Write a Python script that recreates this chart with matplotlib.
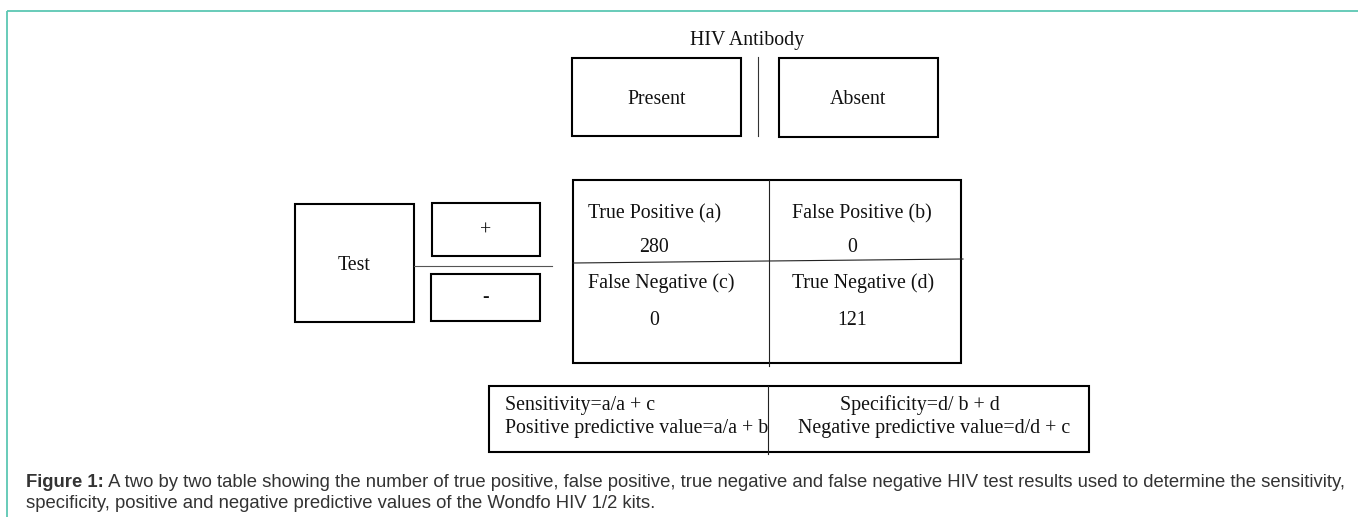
import matplotlib
matplotlib.use("Agg")
import matplotlib.pyplot as plt
from matplotlib.patches import Rectangle

# ===== DATA =====
header_label = "HIV Antibody"
columns = ["Present", "Absent"]
test_label = "Test"
test_results = ["+", "-"]
cell_labels = [["True Positive (a)", "False Positive (b)"],
               ["False Negative (c)", "True Negative (d)"]]
cell_counts = [[280, 0], [0, 121]]
formulas_left = ["Sensitivity=a/a + c", "Positive predictive value=a/a + b"]
formulas_right = ["Specificity=d/ b + d", "Negative predictive value=d/d + c"]
caption_bold = "Figure 1:"
caption_lines = [
    " A two by two table showing the number of true positive, false positive, true negative and false negative HIV test results used to determine the sensitivity,",
    "specificity, positive and negative predictive values of the Wondfo HIV 1/2 kits.",
]

# ===== STYLE =====
W, H = 1358, 517
SERIF = "Liberation Serif"
FS = 14.3
TEAL = "#5cc7b3"
BOX_LW = 1.5
DIV_LW = 0.8

fig = plt.figure(figsize=(W / 100, H / 100), dpi=100)
ax = fig.add_axes([0, 0, 1, 1])
ax.set_xlim(0, W)
ax.set_ylim(H, 0)
ax.axis("off")


def box(x0, y0, x1, y1, lw=BOX_LW):
    ax.add_patch(Rectangle((x0, y0), x1 - x0, y1 - y0, fill=False,
                           edgecolor="black", linewidth=lw))


def stext(x, y, s, ha="center", va="baseline"):
    ax.text(x, y, s, ha=ha, va=va, fontsize=FS, family=SERIF, color="#111111")


# frame
ax.plot([7, W], [11, 11], color=TEAL, lw=1.3, solid_capstyle="butt")
ax.plot([7, 7], [11, H], color=TEAL, lw=1.3, solid_capstyle="butt")

# header
stext(747, 45, header_label)
col_boxes = [(572, 58, 741, 136), (779, 58, 938, 137)]
for (x0, y0, x1, y1), lab in zip(col_boxes, columns):
    box(x0, y0, x1, y1)
    stext((x0 + x1) / 2, 104, lab)
ax.plot([758, 758], [57, 136], color="#333333", lw=DIV_LW)

# test side
box(295, 204, 414, 322)
stext(354.5, 270, test_label)
res_boxes = [(432, 203, 540, 256), (431, 274, 540, 321)]
res_base = [236, 302]
for (x0, y0, x1, y1), lab, yb in zip(res_boxes, test_results, res_base):
    box(x0, y0, x1, y1)
    stext((x0 + x1) / 2, yb, lab)
ax.plot([414, 552], [266, 266], color="#555555", lw=DIV_LW)

# main 2x2 table
box(573, 180, 961, 363)
ax.plot([769, 769], [180, 366], color="#222222", lw=DIV_LW)
ax.plot([573, 963], [263, 259], color="#222222", lw=DIV_LW)
label_x = [588, 792]
count_x = [654, 852]
label_y = [218, 288]
count_y = [252, 325]
for r in range(2):
    for c in range(2):
        stext(label_x[c], label_y[r], cell_labels[r][c], ha="left")
        stext(count_x[c], count_y[r], str(cell_counts[r][c]))

# formulas box
box(489, 386, 1089, 452)
ax.plot([768, 768], [386, 454], color="#222222", lw=DIV_LW)
stext(505, 410, formulas_left[0], ha="left")
stext(505, 433, formulas_left[1], ha="left")
stext(840, 410, formulas_right[0], ha="left")
stext(798, 433, formulas_right[1], ha="left")

# caption
CAP_FS = 13.35
t = ax.text(26, 487, caption_bold, ha="left", va="baseline", fontsize=CAP_FS,
            family="Liberation Sans", weight="bold", color="#333333")
fig.canvas.draw()
bb = t.get_window_extent(renderer=fig.canvas.get_renderer())
x_end = ax.transData.inverted().transform((bb.x1, bb.y0))[0]
ax.text(x_end, 487, caption_lines[0], ha="left", va="baseline", fontsize=CAP_FS,
        family="Liberation Sans", color="#333333")
ax.text(26, 508, caption_lines[1], ha="left", va="baseline", fontsize=CAP_FS,
        family="Liberation Sans", color="#333333")

fig.savefig("out.png", dpi=100, facecolor="white")
